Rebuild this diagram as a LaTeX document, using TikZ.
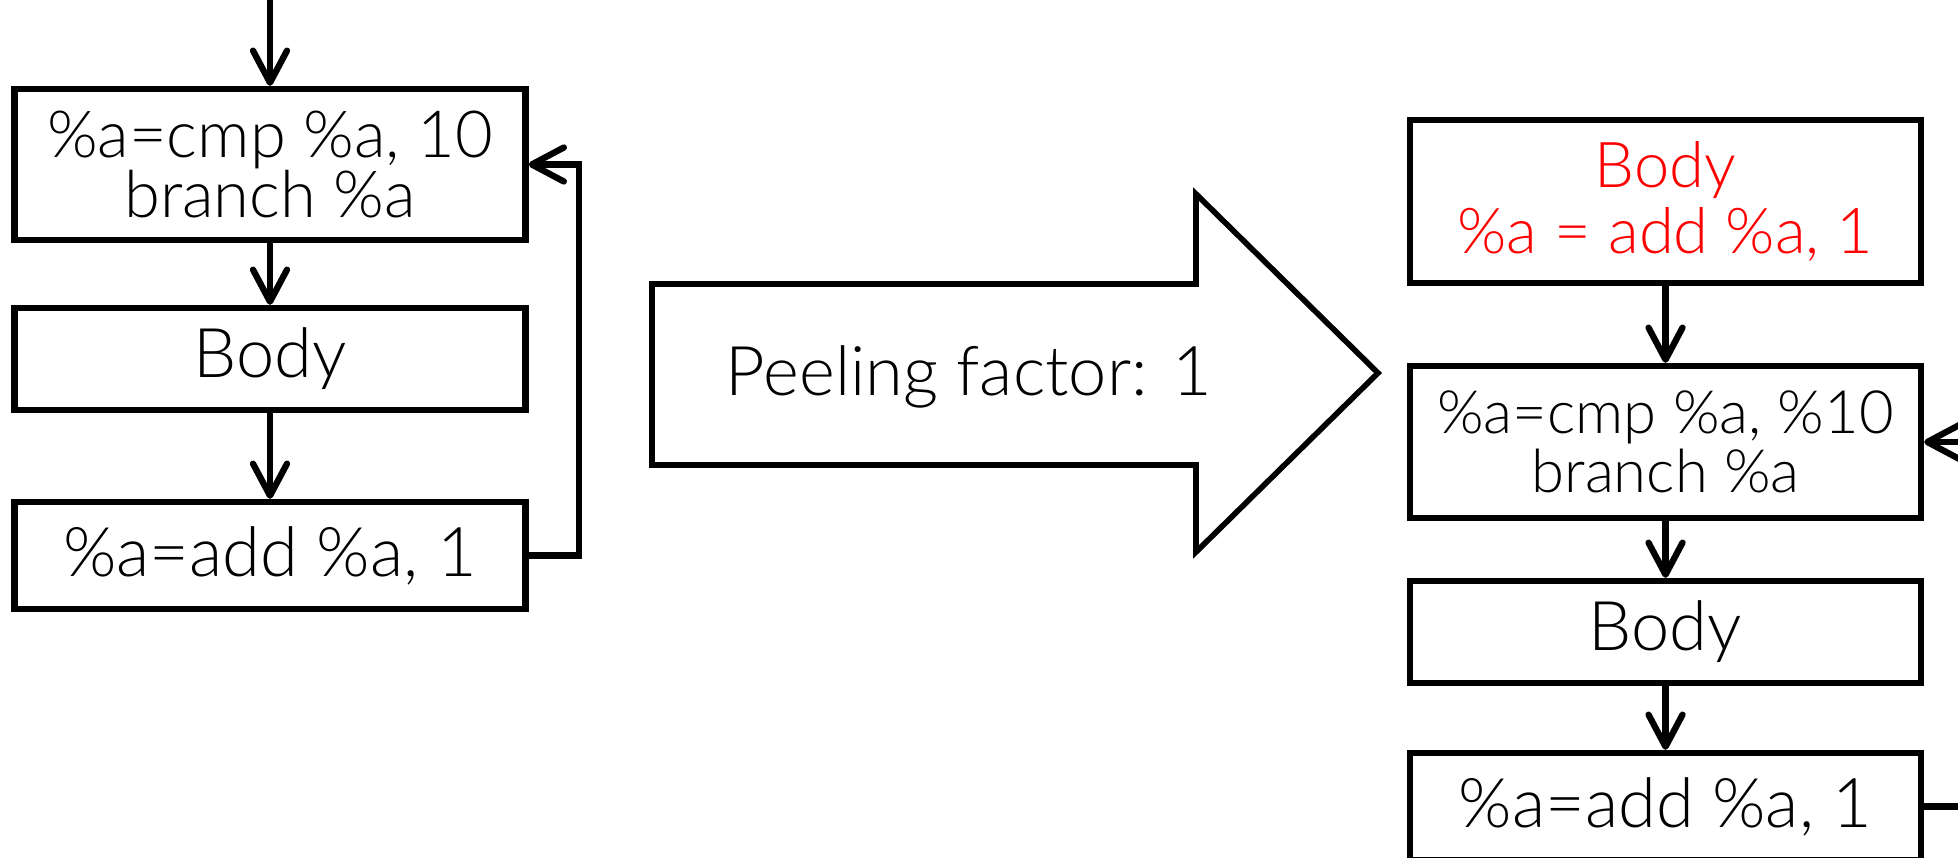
\documentclass[tikz,border=0pt]{standalone}
\usepackage{fontspec}
\setmainfont{Lato Light}
\usetikzlibrary{arrows.meta, positioning}
\definecolor{peelred}{HTML}{FF0000}
\tikzset{
  % basic block of the loop
  block/.style={draw, line width=1.8pt, fill=white, align=center,
                minimum width=5.11cm, inner sep=0pt,
                font=\fontsize{19.5}{17}\selectfont},
  % two-line blocks get a smaller size
  small/.style={font=\fontsize{#1}{17}\selectfont},
  % control flow edge
  flow/.style={line width=1.8pt,
               -{Straight Barb[length=3.2mm, width=3.4mm, round]}},
}

\begin{document}
\begin{tikzpicture}
  \useasboundingbox (0,0) rectangle (19.58,8.57);
  % loop before peeling
  \node[block, small=18.5, minimum height=1.51cm] (cmpL) at (2.70,6.925)
    {\%a=cmp \%a, 10\\branch \%a};
  \node[block, minimum height=1.02cm] (bodyL) at (2.70,4.98) {Body};
  \node[block, minimum height=1.07cm] (addL) at (2.70,3.015)
    {\%a=add \%a, 1};
  \coordinate (entry) at (2.70,8.57);
  \draw[flow] (entry) -- (cmpL);
  \draw[flow] (cmpL) -- (bodyL);
  \draw[flow] (bodyL) -- (addL);
  \draw[flow] (addL.east) -- ++(0.5,0) |- (cmpL.east);

  % transformation arrow
  \draw[line width=1.6pt]
    (6.52,5.73) -- (11.96,5.73) -- (11.96,6.63) -- (13.78,4.84)
    -- (11.96,3.05) -- (11.96,3.92) -- (6.52,3.92) -- cycle;
  \node[font=\fontsize{19.5}{17}\selectfont] (factor) at (9.69,4.80)
    {Peeling factor: 1};

  % loop after peeling
  \node[block, minimum height=1.63cm, text=peelred,
        font=\fontsize{18}{19}\selectfont] (peelR) at (16.655,6.555)
    {Body\\\%a = add \%a, 1};
  \node[block, small=17, minimum height=1.52cm] (cmpR) at (16.655,4.15)
    {\%a=cmp \%a, \%10\\branch \%a};
  \node[block, minimum height=1.02cm] (bodyR) at (16.655,2.25) {Body};
  \node[block, minimum height=1.07cm] (addR) at (16.655,0.505)
    {\%a=add \%a, 1};
  \coordinate (backin) at (19.8,4.15);
  \coordinate (backout) at (19.8,0.505);
  \draw[flow] (peelR) -- (cmpR);
  \draw[flow] (cmpR) -- (bodyR);
  \draw[flow] (bodyR) -- (addR);
  \draw[flow] (backin) -- (cmpR.east);
  \draw[line width=1.8pt] (addR.east) -- (backout);
\end{tikzpicture}
\end{document}
